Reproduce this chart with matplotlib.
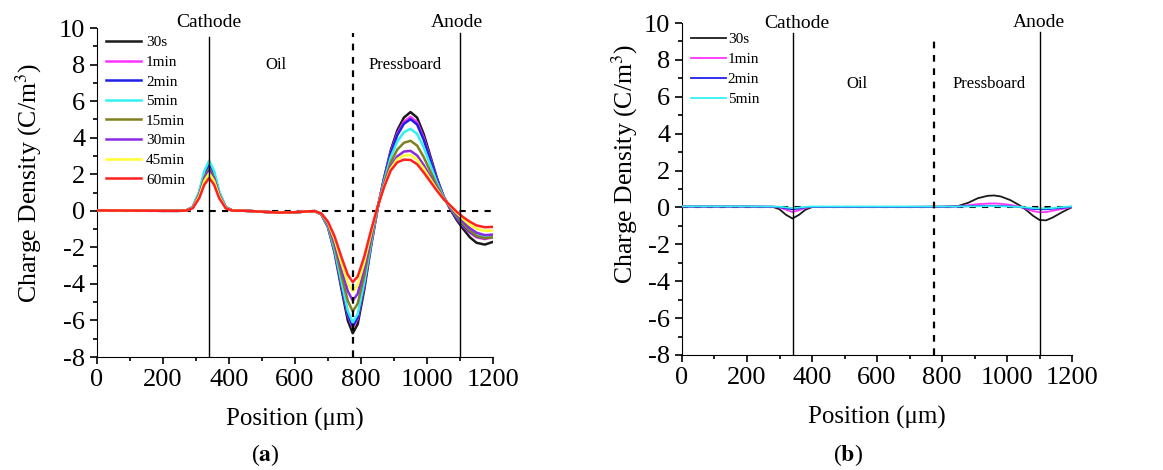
import matplotlib
matplotlib.use("Agg")
import matplotlib.pyplot as plt
from matplotlib.ticker import MultipleLocator

plt.rcParams['font.family'] = ['Liberation Serif', 'DejaVu Serif']
plt.rcParams['mathtext.fontset'] = 'stix'
plt.rcParams['axes.unicode_minus'] = False

# panel (a) data
xa = [0, 100, 200, 250, 270, 290, 310, 325, 340, 355, 370, 390, 410, 450, 500, 550, 600, 640, 660,
      680, 700, 720, 740, 760, 775, 790, 810, 830,
      850, 870, 890, 910, 930, 950, 970, 990, 1010, 1030, 1050,
      1070, 1090, 1110, 1130, 1150, 1175, 1200]
head = [0.02, 0.01, 0.0, 0.0]
mid = [0.0, -0.05, -0.1, -0.08, -0.03, -0.02]

a_30s = head + [0.01, 0.18, 0.94, 1.90, 2.40, 1.90, 0.94, 0.18, 0.01] + mid + \
    [-0.20, -0.90, -2.30, -4.20, -6.00, -6.70, -6.20, -4.30, -2.00] + \
    [0.10, 1.80, 3.30, 4.40, 5.10, 5.40, 5.10, 4.20, 3.00, 1.80, 0.80] + \
    [0.10, -0.50, -1.00, -1.45, -1.75, -1.85, -1.70]
a_1min = head + [0.02, 0.19, 0.98, 1.98, 2.50, 1.98, 0.98, 0.19, 0.02] + mid + \
    [-0.19, -0.87, -2.20, -4.01, -5.72, -6.39, -5.91, -4.10, -1.90] + \
    [0.11, 1.75, 3.19, 4.23, 4.87, 5.14, 4.85, 3.99, 2.86, 1.73, 0.79] + \
    [0.15, -0.40, -0.85, -1.20, -1.45, -1.55, -1.45]
a_2min = head + [0.02, 0.20, 1.01, 2.05, 2.60, 2.05, 1.01, 0.20, 0.02] + mid + \
    [-0.19, -0.86, -2.17, -3.96, -5.65, -6.31, -5.84, -4.05, -1.87] + \
    [0.12, 1.73, 3.14, 4.14, 4.76, 5.01, 4.72, 3.89, 2.79, 1.70, 0.78] + \
    [0.17, -0.37, -0.80, -1.15, -1.40, -1.50, -1.40]
a_5min = head + [0.02, 0.21, 1.07, 2.17, 2.75, 2.17, 1.07, 0.21, 0.02] + mid + \
    [-0.19, -0.84, -2.11, -3.84, -5.47, -6.11, -5.65, -3.92, -1.81] + \
    [0.14, 1.63, 2.92, 3.79, 4.30, 4.48, 4.21, 3.47, 2.51, 1.56, 0.75] + \
    [0.20, -0.30, -0.72, -1.07, -1.32, -1.42, -1.35]
a_15min = head + [0.01, 0.17, 0.90, 1.82, 2.30, 1.82, 0.90, 0.17, 0.01] + mid + \
    [-0.18, -0.77, -1.91, -3.47, -4.93, -5.50, -5.08, -3.53, -1.61] + \
    [0.16, 1.50, 2.64, 3.35, 3.72, 3.83, 3.57, 2.94, 2.16, 1.38, 0.71] + \
    [0.22, -0.28, -0.72, -1.10, -1.38, -1.50, -1.45]
a_30min = head + [0.01, 0.17, 0.86, 1.74, 2.20, 1.74, 0.86, 0.17, 0.01] + mid + \
    [-0.17, -0.71, -1.72, -3.11, -4.40, -4.91, -4.54, -3.15, -1.42] + \
    [0.18, 1.40, 2.41, 2.98, 3.24, 3.28, 3.03, 2.50, 1.87, 1.23, 0.68] + \
    [0.25, -0.20, -0.60, -0.95, -1.20, -1.33, -1.30]
a_45min = head + [0.01, 0.16, 0.80, 1.62, 2.05, 1.62, 0.80, 0.16, 0.01] + mid + \
    [-0.16, -0.65, -1.56, -2.81, -3.95, -4.40, -4.07, -2.82, -1.26] + \
    [0.19, 1.35, 2.31, 2.83, 3.03, 3.04, 2.81, 2.31, 1.74, 1.17, 0.67] + \
    [0.28, -0.12, -0.47, -0.78, -0.98, -1.10, -1.08]
a_60min = head + [0.01, 0.14, 0.70, 1.42, 1.80, 1.42, 0.70, 0.14, 0.01] + mid + \
    [-0.15, -0.60, -1.40, -2.50, -3.50, -3.90, -3.60, -2.50, -1.10] + \
    [0.20, 1.30, 2.20, 2.65, 2.80, 2.78, 2.55, 2.10, 1.60, 1.10, 0.65] + \
    [0.30, -0.05, -0.35, -0.60, -0.80, -0.90, -0.88]

labels_a = ['30s', '1min', '2min', '5min', '15min', '30min', '45min', '60min']
colors_a = ['#1a1a1a', '#ff33ff', '#1f1fe6', '#33f0f0', '#808020', '#8a2be2', '#ffff33', '#ff2020']
series_a = [a_30s, a_1min, a_2min, a_5min, a_15min, a_30min, a_45min, a_60min]

# panel (b) data
xb = [0, 100, 200, 280, 300, 320, 340, 360, 380, 400, 500, 600, 700, 800, 850, 880, 910, 940, 960,
      980, 1010, 1040, 1060, 1080, 1100, 1120, 1140, 1170, 1200]
b_30s = [0.05, 0.05, 0.05, 0.03, -0.10, -0.40, -0.60, -0.40, -0.12, 0.02, 0.03, 0.03, 0.03, 0.04,
         0.08, 0.25, 0.50, 0.63, 0.65, 0.60, 0.40, 0.10, -0.15, -0.45, -0.68, -0.70, -0.55, -0.25, 0.02]
b_1min = [0.05, 0.05, 0.05, 0.04, 0.00, -0.12, -0.25, -0.15, -0.02, 0.03, 0.03, 0.03, 0.03, 0.04,
          0.06, 0.12, 0.18, 0.21, 0.22, 0.20, 0.14, 0.04, -0.08, -0.20, -0.26, -0.25, -0.18, -0.08, 0.03]
b_2min = [0.05, 0.05, 0.05, 0.04, 0.02, -0.05, -0.10, -0.06, 0.01, 0.03, 0.03, 0.03, 0.03, 0.04,
          0.05, 0.07, 0.08, 0.09, 0.09, 0.08, 0.06, 0.02, -0.04, -0.08, -0.10, -0.10, -0.07, -0.02, 0.04]
b_5min = [0.06, 0.06, 0.06, 0.05, 0.04, 0.00, -0.03, -0.01, 0.03, 0.05, 0.05, 0.05, 0.05, 0.05,
          0.05, 0.06, 0.06, 0.07, 0.07, 0.06, 0.05, 0.03, 0.00, -0.03, -0.05, -0.05, -0.03, 0.02, 0.06]
labels_b = ['30s', '1min', '2min', '5min']
colors_b = ['#1a1a1a', '#ff33ff', '#1f1fe6', '#33f0f0']
series_b = [b_30s, b_1min, b_2min, b_5min]


def style_axes(ax, lab_x, lab_y):
    ax.set_xlim(0, 1200)
    ax.set_ylim(-8, 10)
    ax.spines['top'].set_visible(False)
    ax.spines['right'].set_visible(False)
    ax.xaxis.set_major_locator(MultipleLocator(200))
    ax.xaxis.set_minor_locator(MultipleLocator(100))
    ax.yaxis.set_major_locator(MultipleLocator(2))
    ax.yaxis.set_minor_locator(MultipleLocator(1))
    ax.tick_params(which='both', direction='out', width=1.2, labelsize=19)
    ax.tick_params(which='major', length=5)
    ax.tick_params(which='minor', length=3)
    ax.set_xlabel('Position (\u03bcm)', fontsize=18, labelpad=12)
    ax.set_ylabel('Charge Density (C/m$^3$)', fontsize=18.5)
    ax.yaxis.set_label_coords(lab_x, lab_y)
    ax.axhline(0, color='black', ls=(0, (3, 3)), lw=1.5, zorder=1)


fig = plt.figure(figsize=(11.63, 4.70), dpi=100)
ax1 = fig.add_axes([0.0834, 0.2404, 0.3405, 0.7000])
ax2 = fig.add_axes([0.5864, 0.2447, 0.3354, 0.7063])

style_axes(ax1, -0.134, 0.53)
style_axes(ax2, -0.107, 0.575)

for y, c, lab in zip(series_a, colors_a, labels_a):
    ax1.plot(xa, y, color=c, lw=1.8, label=lab, zorder=3)
ax1.plot([340, 340], [-8, 9.5], color='black', lw=1.0, zorder=4)
ax1.plot([1100, 1100], [-8, 9.7], color='black', lw=1.0, zorder=4)
ax1.plot([775, 775], [-8, 9.7], color='black', lw=1.6, ls=(0, (3, 3)), zorder=4)
ax1.text(340, 10.3, 'Cathode', ha='center', va='center', fontsize=14, clip_on=False)
ax1.text(1091, 10.3, 'Anode', ha='center', va='center', fontsize=14, clip_on=False)
ax1.text(542, 8.0, 'Oil', ha='center', va='center', fontsize=12)
ax1.text(933, 8.0, 'Pressboard', ha='center', va='center', fontsize=12)
ax1.legend(loc='upper left', bbox_to_anchor=(0.0, 1.005), frameon=False, fontsize=11,
           handlelength=2.3, handletextpad=0.3, labelspacing=0.39, borderaxespad=0.2)

for y, c, lab in zip(series_b, colors_b, labels_b):
    ax2.plot(xb, y, color=c, lw=1.3, label=lab, zorder=3)
ax2.plot([340, 340], [-8, 9.45], color='black', lw=1.0, zorder=4)
ax2.plot([1100, 1100], [-8, 9.5], color='black', lw=1.0, zorder=4)
ax2.plot([775, 775], [-8, 9.1], color='black', lw=1.6, ls=(0, (3, 3)), zorder=4)
ax2.text(354, 10.0, 'Cathode', ha='center', va='center', fontsize=14, clip_on=False)
ax2.text(1098, 10.05, 'Anode', ha='center', va='center', fontsize=14, clip_on=False)
ax2.text(538, 6.7, 'Oil', ha='center', va='center', fontsize=12)
ax2.text(945, 6.7, 'Pressboard', ha='center', va='center', fontsize=12)
ax2.legend(loc='upper left', bbox_to_anchor=(0.0, 1.0), frameon=False, fontsize=11,
           handlelength=2.3, handletextpad=0.1, labelspacing=0.42, borderaxespad=0.2)

fig.text(265 / 1163, 1 - 455 / 470, r'($\mathbf{a}$)', ha='center', va='center', fontsize=17)
fig.text(848 / 1163, 1 - 455 / 470, r'($\mathbf{b}$)', ha='center', va='center', fontsize=17)

fig.savefig('out.png', dpi=100)
